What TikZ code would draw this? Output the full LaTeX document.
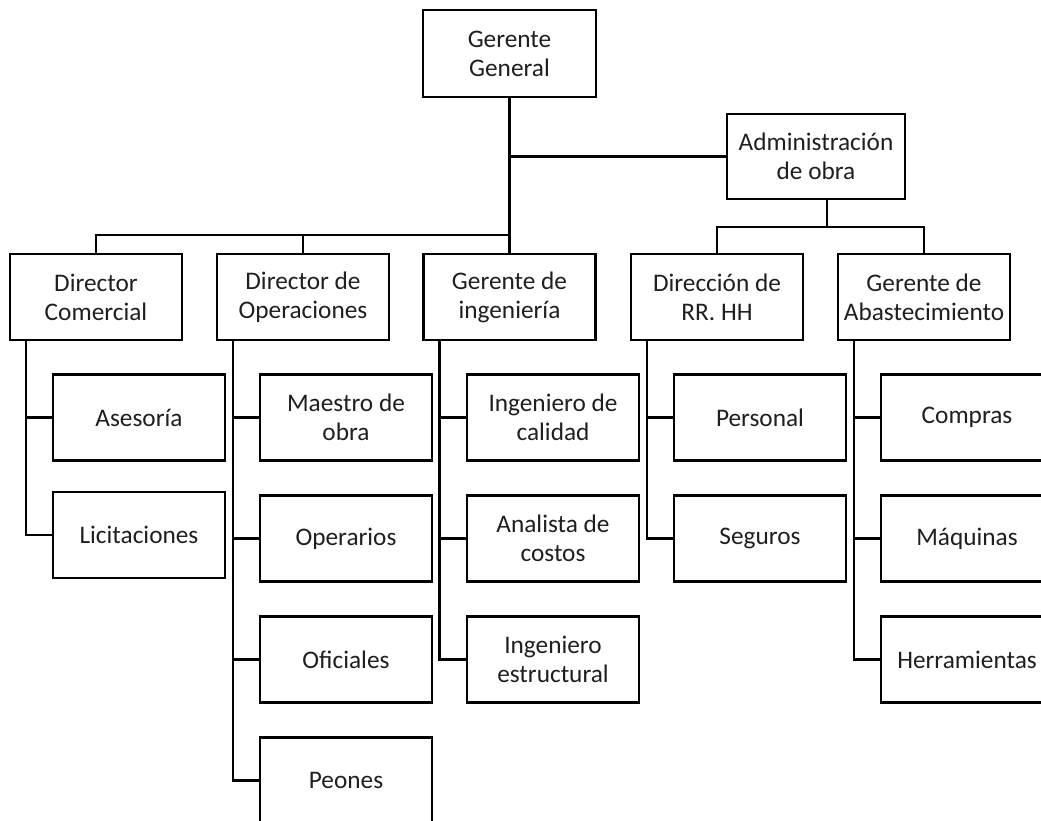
\documentclass[tikz,border=0pt]{standalone}
\usepackage{fontspec}
\setmainfont{Carlito}
\begin{document}
\begin{tikzpicture}[x=1pt,y=-1pt,
  box/.style={draw=black,line width=2.6pt,rectangle,minimum width=172pt,minimum height=86pt,
    align=center,inner sep=1pt,font=\fontsize{25.3}{29}\selectfont,text=black!88},
  conn/.style={draw=black,line width=2.6pt}]
\useasboundingbox (0,0) rectangle (1041,821);
\clip (0,0) rectangle (1041,821);
\fill[white] (0,0) rectangle (1041,821);
% top
\node[box,minimum width=173pt,minimum height=87pt] (gg) at (509.5,53.5) {Gerente\\General};
\node[box,minimum width=178pt,minimum height=85pt] (adm) at (816,156.5) {Administración\\de obra};
% level 2
\node[box] (dc) at (96,297) {Director\\Comercial};
\node[box] (dop) at (303,297) {Director de\\Operaciones};
\node[box] (ing) at (509.5,297) {Gerente de\\ingeniería};
\node[box] (rh) at (717,297) {Dirección de\\RR. HH};
\node[box] (ab) at (924,297) {Gerente de\\Abastecimiento};
% level 3
\node[box] (ases) at (139,417.5) {Asesoría};
\node[box] (lic) at (139,535) {Licitaciones};
\node[box] (mae) at (346,417.5) {Maestro de\\obra};
\node[box] (ope) at (346,538.5) {Operarios};
\node[box] (ofi) at (346,659.5) {Oficiales};
\node[box] (peo) at (346,780.5) {Peones};
\node[box] (icl) at (553,417.5) {Ingeniero de\\calidad};
\node[box] (ana) at (553,538.5) {Analista de\\costos};
\node[box] (ies) at (553,659.5) {Ingeniero\\estructural};
\node[box] (per) at (760,417.5) {Personal};
\node[box] (seg) at (760,538.5) {Seguros};
\node[box] (com) at (967,417.5) {Compras};
\node[box] (maq) at (967,538.5) {Máquinas};
\node[box] (her) at (967,659.5) {Herramientas};
% bus coordinates
\coordinate (busL) at (509.5,235);
\coordinate (busR) at (827,227);
% connectors top
\draw[conn] (gg.south) -- (ing.north);
\draw[conn] (adm.west) -- (adm.west -| gg.south);
\draw[conn] (dc.north) |- (busL);
\draw[conn] (dop.north) -- (dop.north |- busL);
\draw[conn] (adm.south -| busR) -- (busR);
\draw[conn] (rh.north) |- (ab.north |- busR) -- (ab.north);
% children
\draw[conn] ([xshift=-70pt]dc.south) |- (ases.west);
\draw[conn] ([xshift=-70pt]dc.south) |- (lic.west);
\draw[conn] ([xshift=-70pt]dop.south) |- (mae.west);
\draw[conn] ([xshift=-70pt]dop.south) |- (ope.west);
\draw[conn] ([xshift=-70pt]dop.south) |- (ofi.west);
\draw[conn] ([xshift=-70pt]dop.south) |- (peo.west);
\draw[conn] ([xshift=-70pt]ing.south) |- (icl.west);
\draw[conn] ([xshift=-70pt]ing.south) |- (ana.west);
\draw[conn] ([xshift=-70pt]ing.south) |- (ies.west);
\draw[conn] ([xshift=-70pt]rh.south) |- (per.west);
\draw[conn] ([xshift=-70pt]rh.south) |- (seg.west);
\draw[conn] ([xshift=-70pt]ab.south) |- (com.west);
\draw[conn] ([xshift=-70pt]ab.south) |- (maq.west);
\draw[conn] ([xshift=-70pt]ab.south) |- (her.west);
\end{tikzpicture}
\end{document}
